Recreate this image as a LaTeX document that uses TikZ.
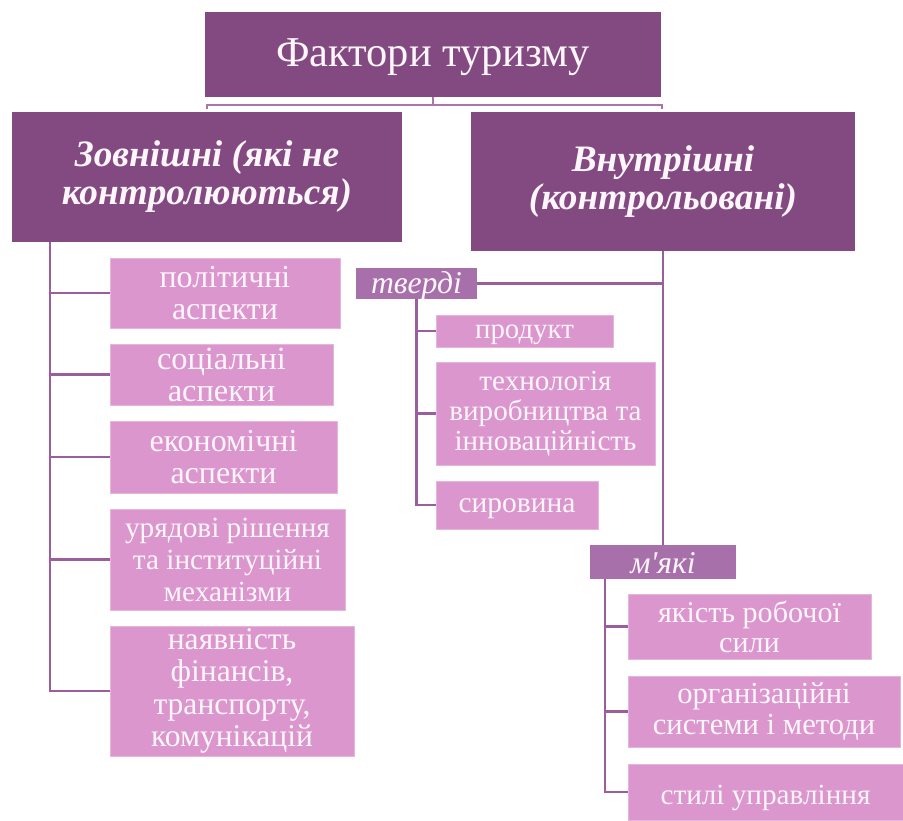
\documentclass[tikz,border=0pt]{standalone}
\usepackage{fontspec}
\newfontfamily\lserif{Liberation Serif}
\newcommand\fsz[3]{#1\fontsize{#2}{#3}\selectfont}
\definecolor{darkp}{RGB}{131,74,129}
\definecolor{midp}{RGB}{168,112,170}
\definecolor{lightp}{RGB}{219,150,206}
\definecolor{linep}{RGB}{156,93,156}
\definecolor{txtp}{RGB}{255,246,252}
\tikzset{
  basebox/.style={inner sep=0pt, text=txtp},
  topbox/.style={basebox, fill=darkp},
  headbox/.style={basebox, align=center, fill=darkp},
  subbox/.style={basebox, fill=midp},
  leafbox/.style={basebox, fill=lightp, draw=lightp!70!white, line width=0.6pt},
  multi/.style={align=center},
  conn/.style={draw=linep, line width=2.6pt},
  thin/.style={draw=linep!85!white, line width=1.8pt}
}
\begin{document}
\begin{tikzpicture}[x=1pt,y=-1pt]
\useasboundingbox (0,0) rectangle (903,821);
% top
\node[topbox, minimum width=456pt, minimum height=85pt, text height=34pt, text depth=9pt,
  font=\fsz\lserif{42.5}{48}] (top) at (433,54.5) {Фактори туризму};
% headers
\node[headbox, minimum width=390pt, minimum height=130pt, font=\fsz\lserif{37.3}{38}\bfseries\itshape] (zov) at (207,177) {Зовнішні (які не\\контролюються)};
\node[headbox, minimum width=384pt, minimum height=139pt, font=\fsz\lserif{37.3}{38}\bfseries\itshape] (vn) at (663,181.5) {Внутрішні\\(контрольовані)};
% left leaves
\node[leafbox, multi, minimum width=230pt, minimum height=70pt, font=\fsz\lserif{32}{32}] (c1) at (225,293) {політичні\\аспекти};
\node[leafbox, multi, minimum width=223pt, minimum height=61pt, font=\fsz\lserif{32.4}{32}] (c2) at (221.5,374.5) {соціальні\\аспекти};
\node[leafbox, multi, minimum width=227pt, minimum height=72pt, font=\fsz\lserif{32}{32}] (c3) at (223.5,457) {економічні\\аспекти};
\node[leafbox, multi, minimum width=235pt, minimum height=101pt, font=\fsz\lserif{29.3}{32}] (c4) at (227.5,559.5) {урядові рішення\\та інституційні\\механізми};
\node[leafbox, multi, minimum width=244pt, minimum height=130pt, font=\fsz\lserif{31.6}{32.3}] (c5) at (232,691) {наявність\\фінансів,\\транспорту,\\комунікацій};
% right
\node[subbox, minimum width=121pt, minimum height=31pt, text height=24pt, text depth=4pt,
  font=\fsz\lserif{31.7}{36}\itshape] (tv) at (416.5,283.5) {тверді};
\node[leafbox, minimum width=177pt, minimum height=32pt, text height=20pt, text depth=6pt,
  font=\fsz\lserif{28.8}{32}] (h1) at (524.5,331) {продукт};
\node[leafbox, multi, minimum width=219pt, minimum height=103pt, font=\fsz\lserif{29.1}{30}] (h2) at (545.5,413.5) {технологія\\виробництва та\\інноваційність};
\node[leafbox, minimum width=162pt, minimum height=48pt, text height=21pt, text depth=5.6pt,
  font=\fsz\lserif{29.5}{32}] (h3) at (517,505) {сировина};
\node[subbox, minimum width=146pt, minimum height=34pt, text height=25pt, text depth=3pt,
  font=\fsz\lserif{31.7}{36}\itshape] (mk) at (663,562) {м'які};
\node[leafbox, multi, minimum width=243pt, minimum height=65pt, font=\fsz\lserif{30.1}{30}] (s1) at (749.5,626.5) {якість робочої\\сили};
\node[leafbox, multi, minimum width=272pt, minimum height=71pt, font=\fsz\lserif{30.6}{31}] (s2) at (764,711.5) {організаційні\\системи і методи};
\node[leafbox, minimum width=275pt, minimum height=56pt, text height=26pt, text depth=2pt,
  font=\fsz\lserif{29.2}{36}] (s3) at (765.5,792) {стилі управління};
% bracket under top
\coordinate (bl) at (207,105);
\coordinate (br) at (662,105);
\draw[thin] ([yshift=-4pt]bl) -- (bl) -- (br) -- ([yshift=-4pt]br);
\draw[thin] (top.south) -- (top.south |- bl);
% left trunk
\coordinate (lt) at (50,242);
\draw[conn] (lt) |- (c5.west);
\foreach \n in {c1,c2,c3,c4} \draw[conn] (\n.west) -- (\n.west -| lt);
% right trunk
\draw[conn] (vn.south) -- (mk.north);
\draw[conn] (tv.east) -- (tv.east -| vn.south);
% тверді children
\draw[conn] (tv.south) |- (h3.west);
\foreach \n in {h1,h2} \draw[conn] (\n.west) -- (\n.west -| tv.south);
% м'які children
\coordinate (mt) at (605,579);
\draw[conn] (mt) |- (s3.west);
\foreach \n in {s1,s2} \draw[conn] (\n.west) -- (\n.west -| mt);
\end{tikzpicture}
\end{document}
